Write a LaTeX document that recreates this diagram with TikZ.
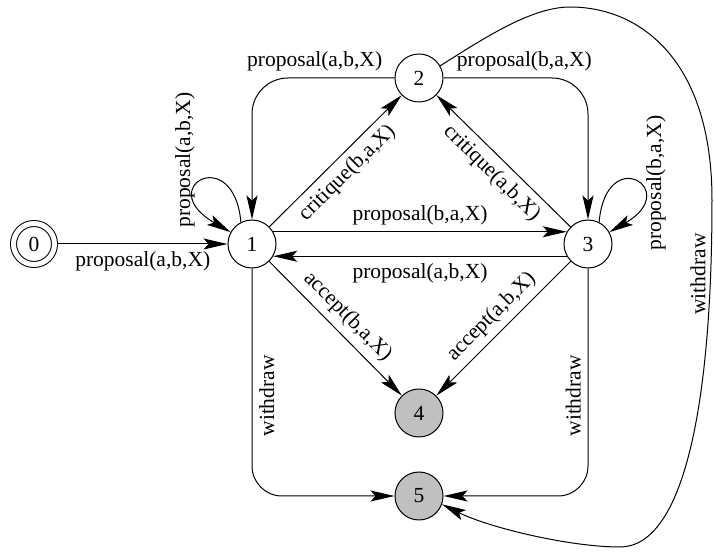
\documentclass[tikz,border=0pt]{standalone}
\usepackage{fontspec}
\setmainfont{Liberation Serif}
\usetikzlibrary{arrows.meta,positioning}
\definecolor{stategray}{HTML}{C0C0C0}

\begin{document}
\begin{tikzpicture}[
    x=0.5pt, y=0.5pt,
    font=\fontsize{10.75}{13}\selectfont,
    state/.style={
        circle,
        draw,
        line width=0.5pt,
        minimum size=24pt,
        inner sep=0pt
    },
    startstate/.style={
        state,
        double,
        double distance=2.5pt,
        minimum size=20.5pt,
        outer sep=1.75pt
    },
    endstate/.style={
        state,
        fill=stategray
    },
    trans/.style={
        -{Stealth[length=12pt, width=5.5pt, inset=2.5pt]},
        line width=0.5pt
    }
]
    \useasboundingbox (0,0) rectangle (714,552);

    % States
    \node[startstate] (s0) at (34,308) {0};
    \node[state] (s1) at (252,308) {1};
    \node[state] (s2) at (419,474) {2};
    \node[state] (s3) at (588,308) {3};
    \node[endstate] (s4) at (419,139) {4};
    \node[endstate] (s5) at (419,56) {5};

    % Proposals
    \draw[trans] (s0) -- node[below] {proposal(a,b,X)} (s1);
    \draw[trans] (s1.117) .. controls +(95:80) and +(150:90) .. (s1.151);
    \node[rotate=90] (loop1) at (185,392) {proposal(a,b,X)};
    \draw[trans] (s3.63) .. controls +(85:80) and +(30:85) .. (s3.29);
    \node[rotate=90] (loop3) at (656,369) {proposal(b,a,X)};
    \draw[trans, rounded corners=18pt] (s2.west) -| node[pos=0.28, above] {proposal(a,b,X)} (s1.north);
    \draw[trans, rounded corners=18pt] (s2.east) -| node[pos=0.28, above] {proposal(b,a,X)} (s3.north);
    \draw[trans] (s1.30) -- node[above] {proposal(b,a,X)} (s3.150);
    \draw[trans] (s3.210) -- node[below] {proposal(a,b,X)} (s1.-30);

    % Critiques
    \draw[trans] (s1) -- node[sloped, below] {critique(b,a,X)} (s2);
    \draw[trans] (s3) -- node[sloped, below] {critique(a,b,X)} (s2);

    % Accepts
    \draw[trans] (s1) -- node[sloped, above] {accept(b,a,X)} (s4);
    \draw[trans] (s3) -- node[sloped, above] {accept(a,b,X)} (s4);

    % Withdraws
    \draw[trans, rounded corners=15pt] (s1.south) |- node[pos=0.28, rotate=90, anchor=north] {withdraw} (s5.west);
    \draw[trans, rounded corners=15pt] (s3.south) |- node[pos=0.28, rotate=90, anchor=south] {withdraw} (s5.east);
    \draw[trans] (s2.30) .. controls (480,511) and (530,545) .. (570,545)
        .. controls (640,545) and (712,492) .. (712,352)
        .. controls (712,132) and (680,5) .. (620,5)
        .. controls (570,5) and (490,24) .. (s5.-20);
    \node[rotate=90] (wd2) at (698,278) {withdraw};
\end{tikzpicture}
\end{document}
